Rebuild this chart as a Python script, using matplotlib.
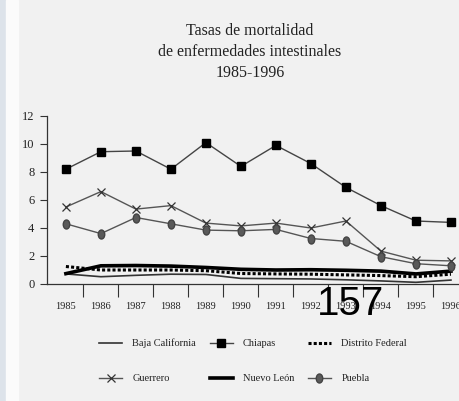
import matplotlib
matplotlib.use("Agg")
import matplotlib.pyplot as plt
from matplotlib.path import Path
import numpy as np

years = ["1985", "1986", "1987", "1988", "1989", "1990",
         "1991", "1992", "1993", "1994", "1995", "1996"]

baja_california = [0.72, 0.52, 0.62, 0.70, 0.68, 0.40, 0.38, 0.36, 0.30, 0.22, 0.12, 0.28]
chiapas = [8.2, 9.45, 9.5, 8.2, 10.1, 8.4, 9.9, 8.6, 6.9, 5.6, 4.5, 4.4]
distrito_federal = [1.25, 1.0, 1.0, 1.0, 0.95, 0.75, 0.72, 0.70, 0.65, 0.60, 0.52, 0.70]
guerrero = [5.5, 6.6, 5.35, 5.6, 4.35, 4.15, 4.35, 4.0, 4.5, 2.35, 1.7, 1.65]
nuevo_leon = [0.74, 1.3, 1.32, 1.28, 1.18, 1.05, 1.0, 1.02, 0.98, 0.92, 0.72, 0.92]
puebla = [4.3, 3.6, 4.75, 4.3, 3.85, 3.8, 3.9, 3.25, 3.05, 1.95, 1.45, 1.3]

y_ticks = [0, 2, 4, 6, 8, 10, 12]

plt.rcParams['font.family'] = ['Liberation Serif', 'DejaVu Serif']

# tall oval marker like the printed one
circ = Path.unit_circle()
oval = Path(circ.vertices * [0.72, 1.0], circ.codes)

fig = plt.figure(figsize=(4.59, 4.01), dpi=100)
fig.patch.set_facecolor('#f1f1f1')

# scan border on the left
fig.patches.append(plt.Rectangle((0, 0), 6 / 459, 1, transform=fig.transFigure,
                                 color='#dde3ea', zorder=0))
fig.patches.append(plt.Rectangle((6 / 459, 0), 12 / 459, 1, transform=fig.transFigure,
                                 color='#fbfbfb', zorder=0))

ax = fig.add_axes([47 / 459, 117 / 401, 412 / 459, 168 / 401])
ax.set_facecolor('none')

x = np.arange(len(years))

h_baja, = ax.plot(x, baja_california, color='#333333', lw=1.2)
h_chiapas, = ax.plot(x, chiapas, color='#444444', lw=1.0, marker='s',
                     markersize=5.2, markerfacecolor='black', markeredgecolor='black')
h_df, = ax.plot(x, distrito_federal, color='black', lw=2.2, linestyle=(0, (1, 0.7)))
h_guerrero, = ax.plot(x, guerrero, color='#555555', lw=1.0, marker='x',
                      markersize=5.5, markeredgewidth=0.9, markeredgecolor='#333333')
h_nl, = ax.plot(x, nuevo_leon, color='black', lw=2.6)
h_puebla, = ax.plot(x, puebla, color='#555555', lw=1.0, marker=oval,
                    markersize=6.5, markerfacecolor='#5a5a5a', markeredgecolor='#444444')

ax.set_xlim(-0.54, 11.23)
ax.set_ylim(0, 12)

ax.set_yticks(y_ticks)
ax.set_yticklabels([str(v) for v in y_ticks], fontsize=9, color='#222222')
ax.set_xticks(x)
ax.set_xticklabels(years, fontsize=7.5, color='#222222')
ax.tick_params(axis='x', length=0, pad=13)
ax.set_xticks(np.arange(0.5, 11.5, 1), minor=True)
ax.tick_params(axis='x', which='minor', length=9, width=0.8, color='#333333')
ax.tick_params(axis='y', length=5, width=0.8, color='#333333', pad=4)

for side in ['top', 'right']:
    ax.spines[side].set_visible(False)
for side in ['left', 'bottom']:
    ax.spines[side].set_color('#333333')
    ax.spines[side].set_linewidth(0.9)

fig.text(250 / 459, 1 - 52 / 401,
         "Tasas de mortalidad\nde enfermedades intestinales\n1985-1996",
         ha='center', va='center', fontsize=11.5, linespacing=1.45, color='#222222')

fig.legend([h_baja, h_guerrero, h_chiapas, h_nl, h_df, h_puebla],
           ["Baja California", "Guerrero", "Chiapas", "Nuevo León",
            "Distrito Federal", "Puebla"],
           ncol=3, loc='center', bbox_to_anchor=(253 / 459, 1 - 361 / 401),
           frameon=False, fontsize=7.5, labelspacing=2.45, handlelength=2.2,
           handletextpad=1.0, columnspacing=1.3, labelcolor='#222222')

# page number stamped on the scan
fig.text(350 / 459, 1 - 304 / 401, "157", ha='center', va='center',
         fontsize=29, family='Liberation Sans', color='black')

fig.savefig("out.png", dpi=100, facecolor=fig.get_facecolor())
